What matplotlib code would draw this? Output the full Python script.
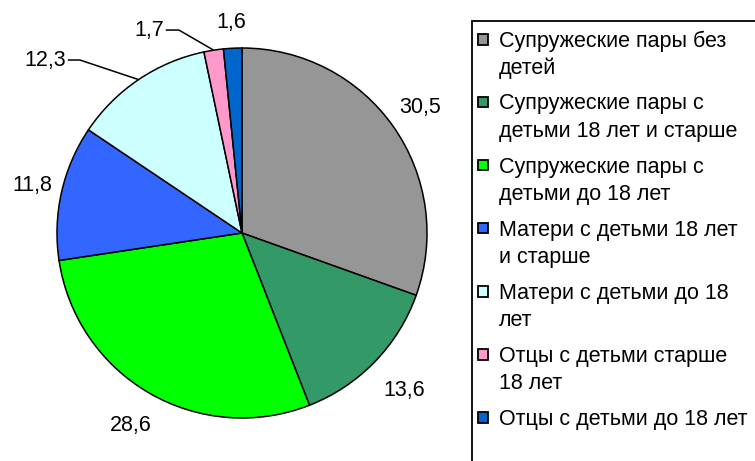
import numpy as np
import matplotlib
matplotlib.use('Agg')
import matplotlib.pyplot as plt
from matplotlib.patches import Rectangle

plt.rcParams['font.family'] = ['Liberation Sans', 'DejaVu Sans']

labels = ['Супружеские пары без\nдетей',
          'Супружеские пары с\nдетьми 18 лет и старше',
          'Супружеские пары с\nдетьми до 18 лет',
          'Матери с детьми 18 лет\nи старше',
          'Матери с детьми до 18\nлет',
          'Отцы с детьми старше\n18 лет',
          'Отцы с детьми до 18 лет']
values = [30.5, 13.6, 28.6, 11.8, 12.3, 1.7, 1.6]
value_text = ['30,5', '13,6', '28,6', '11,8', '12,3', '1,7', '1,6']
colors = ['#969696', '#339966', '#00ff00', '#3366ff', '#ccffff', '#ff99cc', '#0066cc']

W, H = 755, 461
R = 185.0  # pie radius in px
cx, cy = 242, 233  # pie centre, px from top-left

fig = plt.figure(figsize=(W / 100, H / 100), dpi=100)
ax = fig.add_axes([0, 0, 1, 1])

wedges, _ = ax.pie(values, colors=colors, startangle=90, counterclock=False,
                   radius=1.0, wedgeprops=dict(edgecolor='black', linewidth=1.1))
ax.set_aspect('auto')
ax.set_xlim(-cx / R, (W - cx) / R)
ax.set_ylim(-(H - cy) / R, cy / R)
ax.axis('off')

fs = 15.5
# label distance (in radii) per slice; None -> uses leader line
dist = [1.18, 1.22, 1.2, 1.16, None, None, 1.14]
# text right edge (x, y) and knee x for the two leader-line labels
leader_pos = {4: (-0.951, 0.935, -0.876), 5: (-0.422, 1.097, -0.341)}

for i, w in enumerate(wedges):
    mid = np.deg2rad((w.theta1 + w.theta2) / 2)
    if dist[i] is not None:
        ax.text(dist[i] * np.cos(mid), dist[i] * np.sin(mid), value_text[i],
                ha='center', va='center', fontsize=fs)
    else:
        tx, ty, kx = leader_pos[i]
        ax.text(tx, ty, value_text[i], ha='right', va='center', fontsize=fs)
        ax.plot([tx + 0.01, kx, np.cos(mid)], [ty, ty, np.sin(mid)],
                color='black', lw=1.1, solid_capstyle='butt')

# legend box (runs off the right and bottom edges)
fig.patches.append(Rectangle((472 / W, -0.1), 0.5, 1.1 - 21 / H,
                             transform=fig.transFigure, fill=False,
                             edgecolor='black', linewidth=1.3))

line_h = 27
gap = 9
y = 41
for i, lab in enumerate(labels):
    lines = lab.split('\n')
    fig.patches.append(Rectangle((477.5 / W, 1 - (y + 3.5) / H), 10.5 / W, 10.5 / H,
                                 transform=fig.transFigure,
                                 facecolor=wedges[i].get_facecolor(),
                                 edgecolor='black', linewidth=1.3))
    for k, ln in enumerate(lines):
        fig.text(499 / W, 1 - (y + k * line_h) / H, ln, ha='left', va='center',
                 fontsize=fs)
    y += len(lines) * line_h + gap

fig.savefig('out.png', dpi=100)
